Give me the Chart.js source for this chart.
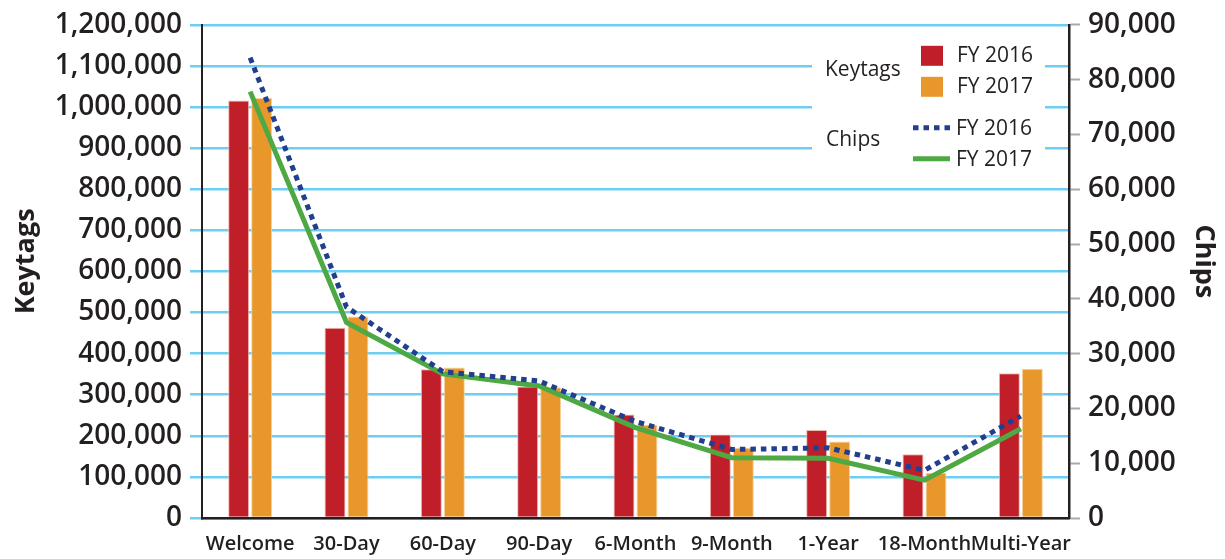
<!DOCTYPE html>
<html>
<head>
<meta charset="utf-8">
<script src="https://cdn.jsdelivr.net/npm/chart.js@4/dist/chart.umd.min.js"></script>
<style>
  html, body { margin: 0; padding: 0; background: #ffffff; }
  #wrap { width: 1225px; height: 559px; position: relative; }
</style>
</head>
<body>
<div id="wrap"><canvas id="c" width="1225" height="559"></canvas></div>
<script>
// ---- data ----
const categories = ['Welcome', '30-Day', '60-Day', '90-Day', '6-Month', '9-Month', '1-Year', '18-Month', 'Multi-Year'];
const keytagsFY2016 = [1016000, 463000, 362000, 320000, 252000, 203000, 214000, 155000, 352000];
const keytagsFY2017 = [1022000, 490000, 366000, 318000, 227000, 171000, 186000, 110000, 363000];
const chipsFY2016 = [84000, 38500, 26700, 25000, 17600, 12500, 12800, 8700, 18600];
const chipsFY2017 = [77800, 35700, 26300, 24100, 16500, 11000, 10900, 6900, 16300];
const keytagTicks = [0, 100000, 200000, 300000, 400000, 500000, 600000, 700000, 800000, 900000, 1000000, 1100000, 1200000];
const chipTicks = [0, 10000, 20000, 30000, 40000, 50000, 60000, 70000, 80000, 90000];
const seriesLabels = ['FY 2016', 'FY 2017'];
const groupLabels = ['Keytags', 'Chips'];

// ---- styles ----
const FONT = '"Open Sans", "Noto Sans", sans-serif';
const TEXT = '#231f20';
const RED = '#c01f29';
const ORANGE = '#e8982a';
const NAVY = '#223f8f';
const GREEN = '#4ea843';
const GRID = '#6dcdf3';

const fmt = v => Number(v).toLocaleString('en-US');

const groupLegend = {
  id: 'groupLegend',
  afterDatasetsDraw(chart) {
    const { ctx, chartArea: a } = chart;
    const ds = chart.data.datasets;
    const r = a.right, t = a.top;
    ctx.save();
    ctx.fillStyle = '#ffffff';
    ctx.fillRect(r - 257, t + 18, 233, 128);
    ctx.font = '21px ' + FONT;
    ctx.fillStyle = TEXT;
    ctx.textBaseline = 'middle';
    ctx.textAlign = 'left';
    ctx.fillText(groupLabels[0], r - 244, t + 45);
    ctx.fillText(groupLabels[1], r - 243, t + 115);
    const bars = [ds[2], ds[3]];
    bars.forEach((d, i) => {
      const y = t + 21 + i * 31;
      ctx.fillStyle = d.backgroundColor;
      ctx.fillRect(r - 148, y, 22, 20);
      ctx.fillStyle = TEXT;
      ctx.fillText(d.legendText, r - 112, y + 10);
    });
    const lines = [ds[0], ds[1]];
    lines.forEach((d, i) => {
      const y = t + 103 + i * 31;
      ctx.strokeStyle = d.borderColor;
      ctx.lineWidth = d.borderWidth;
      ctx.lineCap = 'butt';
      ctx.setLineDash(d.borderDash || []);
      ctx.beginPath();
      ctx.moveTo(r - 156, y);
      ctx.lineTo(r - 119, y);
      ctx.stroke();
      ctx.setLineDash([]);
      ctx.fillStyle = TEXT;
      ctx.fillText(d.legendText, r - 113, y + 1);
    });
    ctx.restore();
  },
  afterDraw(chart) {
    // axis titles (slightly above the vertical centre, as in the original)
    const { ctx, chartArea: a, width } = chart;
    const cy = (a.top + a.bottom) / 2 - 10;
    ctx.save();
    ctx.font = '700 27px ' + FONT;
    ctx.fillStyle = TEXT;
    ctx.textAlign = 'center';
    ctx.textBaseline = 'middle';
    ctx.translate(26, cy);
    ctx.rotate(-Math.PI / 2);
    ctx.fillText(groupLabels[0], 0, 0);
    ctx.restore();
    ctx.save();
    ctx.font = '700 27px ' + FONT;
    ctx.fillStyle = TEXT;
    ctx.textAlign = 'center';
    ctx.textBaseline = 'middle';
    ctx.translate(width - 21, cy);
    ctx.rotate(Math.PI / 2);
    ctx.fillText(groupLabels[1], 0, 0);
    ctx.restore();
  }
};

new Chart(document.getElementById('c'), {
  data: {
    labels: categories,
    datasets: [
      {
        type: 'line', label: groupLabels[1] + ' ' + seriesLabels[0], legendText: seriesLabels[0],
        data: chipsFY2016, yAxisID: 'y1', order: 0,
        borderColor: NAVY, borderWidth: 5, borderDash: [5.5, 5], borderCapStyle: 'butt',
        pointRadius: 0, tension: 0, fill: false
      },
      {
        type: 'line', label: groupLabels[1] + ' ' + seriesLabels[1], legendText: seriesLabels[1],
        data: chipsFY2017, yAxisID: 'y1', order: 1,
        borderColor: GREEN, borderWidth: 5, borderCapStyle: 'butt',
        pointRadius: 0, tension: 0, fill: false
      },
      {
        type: 'bar', label: groupLabels[0] + ' ' + seriesLabels[0], legendText: seriesLabels[0],
        data: keytagsFY2016, yAxisID: 'y', order: 2,
        backgroundColor: RED, borderColor: '#f0b9ae', borderWidth: 1,
        categoryPercentage: 0.4775, barPercentage: 0.913
      },
      {
        type: 'bar', label: groupLabels[0] + ' ' + seriesLabels[1], legendText: seriesLabels[1],
        data: keytagsFY2017, yAxisID: 'y', order: 3,
        backgroundColor: ORANGE, borderColor: '#f6d3a0', borderWidth: 1,
        categoryPercentage: 0.4775, barPercentage: 0.913
      }
    ]
  },
  options: {
    responsive: false,
    animation: false,
    devicePixelRatio: 1,
    layout: { padding: { top: 21, left: 0, right: 0, bottom: 0 } },
    plugins: { legend: { display: false }, tooltip: { enabled: false } },
    scales: {
      x: {
        type: 'category',
        grid: { display: false, drawTicks: false },
        border: { display: true, color: '#231f20', width: 2.5 },
        ticks: { color: TEXT, font: { family: FONT, size: 20, weight: 600 }, padding: 14, maxRotation: 0, autoSkip: false },
        afterFit: s => { s.height = 41; }
      },
      y: {
        position: 'left',
        min: keytagTicks[0], max: keytagTicks[keytagTicks.length - 1],
        afterBuildTicks: s => { s.ticks = keytagTicks.map(v => ({ value: v })); },
        grid: { color: GRID, lineWidth: 2.5, tickLength: 12, tickColor: GRID, tickWidth: 2.5 },
        border: { display: true, color: '#231f20', width: 2 },
        ticks: { color: TEXT, font: { family: FONT, size: 28, weight: 600 }, padding: 8, callback: v => fmt(v) },
        afterFit: s => { s.width = 202; }
      },
      y1: {
        position: 'right',
        min: chipTicks[0], max: chipTicks[chipTicks.length - 1],
        afterBuildTicks: s => { s.ticks = chipTicks.map(v => ({ value: v })); },
        grid: { drawOnChartArea: false, tickLength: 11, tickColor: '#a7a9ac', tickWidth: 2 },
        border: { display: true, color: '#231f20', width: 2.5 },
        ticks: { color: TEXT, font: { family: FONT, size: 28, weight: 600 }, padding: 8, callback: v => fmt(v) },
        afterFit: s => { s.width = 156; }
      }
    }
  },
  plugins: [groupLegend]
});
</script>
</body>
</html>
